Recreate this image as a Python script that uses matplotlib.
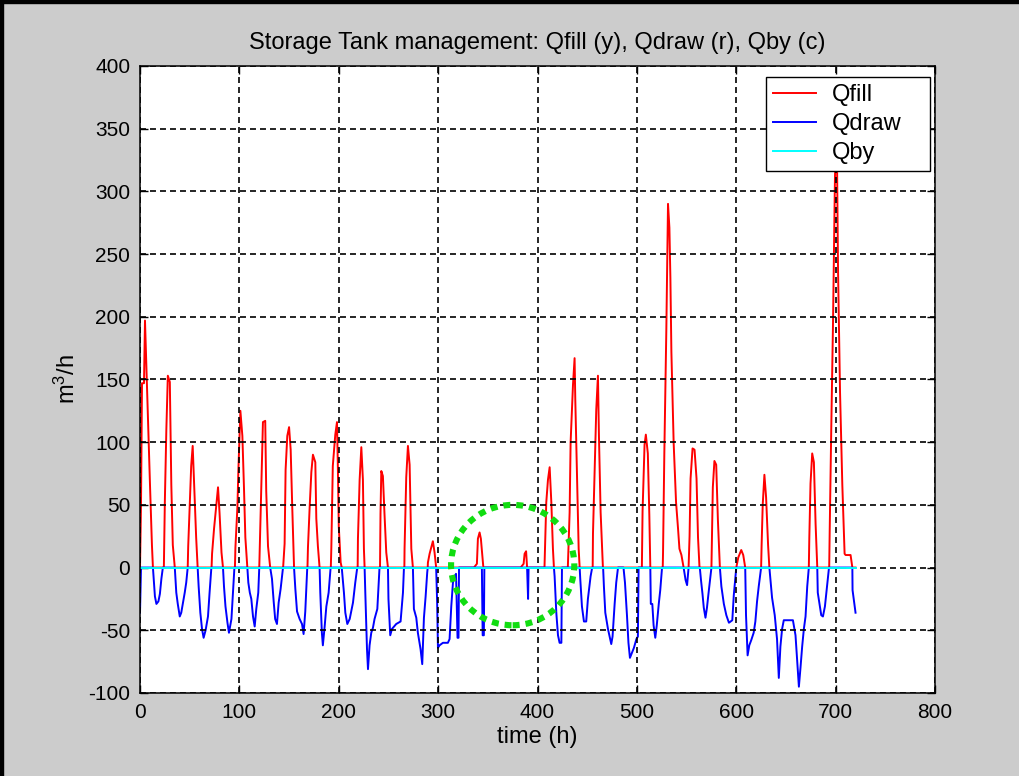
import numpy as np
import matplotlib
matplotlib.use("Agg")
import matplotlib.pyplot as plt
from matplotlib.patches import Ellipse, Rectangle

plt.rcParams['font.family'] = ['Liberation Sans', 'DejaVu Sans']
plt.rcParams['mathtext.default'] = 'regular'
plt.rcParams['lines.scale_dashes'] = False
plt.rcParams['axes.unicode_minus'] = False

# hourly flows of the storage tank, vertices of each curve (time in h, flow in m3/h)
fill_t = [0, 1, 2, 4, 5, 6, 8, 10, 12, 13,
          24, 25, 26.5, 28, 30, 30.5, 31.5, 33, 35,
          48, 48.5, 50, 51.5, 53, 55, 56.5, 58,
          72, 72.5, 74.5, 76.8, 78.5, 80, 82, 83.5,
          95.5, 96, 98, 99, 101, 103, 104.6, 106, 108,
          120, 120.5, 122, 123.7, 126, 127, 128.8, 131,
          144, 145.5, 146.5, 148.2, 150, 151.6, 153.2, 155,
          168.5, 169, 170.7, 172.4, 174, 176.4, 177.4, 179, 180.7,
          192, 192.5, 194, 196.5, 198.2, 199, 200, 201.9, 203,
          219, 219.3, 221, 222.7, 224.3, 225.3, 226,
          241.5, 242, 242.8, 244.4, 246, 247.8, 249.5,
          266, 266.2, 267.9, 269.6, 271.3, 273, 274.6,
          289.5, 289.7, 291.4, 293, 294.7, 296.4, 298,
          336, 339, 340, 341.7, 343, 345, 345.5,
          383, 386, 387, 388.5, 389.5,
          407, 408.8, 410.5, 412.2, 413.9, 415.5, 416.5,
          430.5, 432.3, 433.3, 435.7, 437.3, 438, 439.7, 441.4, 442.4,
          455.5, 455.8, 457.5, 459.1, 460.8, 461.8, 463.5, 465.8,
          505, 505.7, 507.7, 509, 511, 512.5, 513.5,
          526, 526.3, 527.6, 529.6, 531.3, 532.7, 533.7, 534.7, 537, 539.4, 541.4, 542.8, 544.8, 547,
          552, 553, 554, 556, 558, 560, 561.5, 563,
          575, 575.5, 576.4, 578, 579.8, 581.5, 583.5,
          600, 602, 605, 607, 609,
          625, 625.5, 626.6, 628.3, 630, 632, 633.3,
          673, 673.5, 674.7, 676.4, 678.1, 679.8, 681.5,
          693.5, 694, 695.6, 697.3, 699.3, 700.3, 701.3, 702.4, 704.4, 706.7, 709, 710, 715, 716.8, 720]
fill_v = [0, 50, 147, 147, 197, 171, 121, 67, 18, 0,
          0, 53, 110, 153, 148, 121, 66, 18, 0,
          0, 17, 49, 81, 97, 55, 24, 0,
          0, 11, 31, 50, 64, 44, 12, 0,
          0, 16, 48, 78, 125, 105, 64, 24, 0,
          0, 16, 66, 116, 117, 61, 17, 0,
          0, 19, 78, 105, 112, 94, 48, 0,
          0, 16, 48, 76, 90, 84, 39, 17, 0,
          0, 15, 81, 106, 116, 84, 33, 4, 0,
          0, 23, 70, 96, 70, 15, 0,
          0, 43, 77, 73, 43, 12, 0,
          0, 15, 72, 97, 82, 15, 0,
          0, 4, 11, 16, 21, 12, 0,
          0, 3, 23, 28, 23, 4, 0,
          0, 3, 11, 13, 0,
          0, 52, 70, 80, 52, 15, 0,
          0, 44, 100, 146, 167, 134, 76, 15, 0,
          0, 27, 77, 126, 153, 105, 44, 0,
          0, 45, 98, 106, 91, 42, 0,
          0, 12, 91, 189, 290, 271, 231, 172, 99, 52, 31, 15, 10, 0,
          0, 25, 71, 95, 94, 71, 24, 0,
          0, 22, 64, 85, 82, 38, 0,
          0, 8, 14, 10, 0,
          0, 18, 50, 74, 56, 18, 0,
          0, 24, 67, 91, 84, 35, 0,
          0, 29, 112, 193, 311, 345, 330, 237, 140, 66, 11, 10, 10, 0, 0]

draw_t = [0, 1, 13, 15, 16.5, 18.5, 20, 21.5, 23,
          35, 36.5, 38, 40, 41.5, 43, 45, 46.5, 48,
          58, 59, 60.7, 62.4, 64, 66, 68.4, 70, 71.8,
          83.5, 84.5, 86, 88, 89.5, 92, 93.5, 95,
          108, 109, 110.5, 112, 113.7, 115.4, 117, 119, 120,
          131, 132.8, 134.5, 136, 137.8, 139.5, 141.5, 143.9,
          155, 156.3, 158, 160.6, 163, 164.6, 166.3, 168.3,
          180.7, 181.4, 183, 184, 185.8, 187.5, 189.8, 191.8,
          203, 205.2, 206.6, 208.6, 211, 214.3, 216.6, 218.6,
          226, 226.7, 228.4, 229.4, 231, 232.7, 234.4, 236, 238.8, 241,
          249.5, 250, 251.8, 253.5, 257.8, 262.2, 264.6, 265.6,
          274.6, 275.6, 278, 279.6, 282.3, 284, 285.7, 287.4, 289, 289.5,
          298, 299, 299.8, 301.4, 304.8, 309.8, 311.5, 313.2, 314.9, 316.5, 318, 319.5, 320.5, 321,
          344, 344.8, 346, 346.5,
          389.5, 390, 390.5, 391,
          416.5, 417.2, 418.9, 420.6, 422.2, 424, 424.6,
          442.4, 443, 444.7, 446.7, 449, 450.7, 453.4, 455,
          466, 466.8, 468.2, 470.9, 474.2, 475.5, 477.6, 479.2, 481,
          486.5, 488, 490, 491.5, 493, 495, 497, 499.5, 501, 501.7,
          513.5, 514, 515.5, 516.8, 518.5, 520, 522, 523.5, 525.3,
          547, 549, 550.5, 552,
          563.3, 564.5, 566, 567.3, 569, 570.5, 572, 575,
          583.5, 585, 587.5, 590, 592.6, 596, 597.5, 600,
          609, 609.8, 611.4, 613.1, 615, 617.5, 619.2, 620.9, 622.6, 625,
          633.3, 636, 638.7, 641, 642.8, 644.4, 646.1, 647.8, 652.9, 657, 659.6, 661.3, 663, 664.6,
          666.3, 668, 669.7, 671.4, 673,
          681.5, 682, 683.8, 685.5, 687.2, 689.2, 691.6, 693.3,
          716.8, 717, 718.5, 720]
draw_v = [-36, 0, 0, -23, -29, -27, -21, -9, 0,
          0, -20, -29, -39, -36, -29, -20, -12, 0,
          0, -15, -36, -49, -56, -50, -39, -20, 0,
          0, -15, -31, -44, -52, -41, -20, 0,
          0, -12, -20, -25, -39, -47, -33, -20, 0,
          0, -9, -27, -41, -45, -28, -17, 0,
          0, -17, -35, -41, -45, -53, -35, 0,
          0, -20, -52, -62, -47, -31, -20, 0,
          0, -20, -36, -45, -41, -28, -12, 0,
          0, -20, -65, -81, -62, -52, -48, -41, -33, 0,
          0, -25, -54, -49, -45, -43, -20, 0,
          0, -33, -40, -52, -65, -77, -40, -23, -4, 0,
          0, -28, -64, -62, -60, -60, -57, -31, -12, -7, -5, -56, -56, 0,
          0, -54, -54, 0,
          0, -12, -25, 0,
          0, -7, -36, -54, -60, -60, 0,
          0, -9, -31, -43, -43, -25, -7, 0,
          0, -15, -36, -49, -61, -55, -29, -12, 0,
          0, -12, -38, -60, -72, -68, -64, -57, -55, 0,
          0, -29, -29, -46, -56, -46, -29, -18, 0,
          0, -10, -14, 0,
          0, -10, -21, -32, -40, -32, -21, 0,
          0, -15, -29, -38, -44, -42, -22, 0,
          0, -38, -70, -62, -58, -52, -43, -27, -15, 0,
          0, -24, -38, -57, -88, -63, -49, -42, -42, -42, -54, -74, -95, -80,
          -63, -49, -39, -15, 0,
          0, -20, -29, -38, -39, -31, -13, 0,
          0, -18, -27, -36]

by_t = [0, 720]
by_v = [0, 0]

fig = plt.figure(figsize=(10.19, 7.76), dpi=100, facecolor='#cccccc')
ax = fig.add_axes([0.1374, 0.1070, 0.7802, 0.8080])

ax.plot(fill_t, fill_v, color='#ff0000', lw=1.4, label='Qfill', zorder=1)
ax.plot(draw_t, draw_v, color='#0000ff', lw=1.4, label='Qdraw', zorder=1)
ax.plot(by_t, by_v, color='#00ffff', lw=1.4, label='Qby', zorder=2)

# green dotted circle around the low-demand days
ax.add_patch(Ellipse((375, 2), 124, 96, fill=False, edgecolor='#11dd11', lw=4.4,
                     linestyle=(0, (5, 4.3)), zorder=3))

ax.set_xlim(0, 800)
ax.set_ylim(-100, 400)
ax.set_xticks(np.arange(0, 801, 100))
ax.set_yticks(np.arange(-100, 401, 50))
ax.set_axisbelow('line')
ax.grid(True, color='black', linestyle=(0, (4.3, 2.9)), lw=1.2)
ax.tick_params(direction='in', length=6, width=1, top=True, right=True,
               labelsize=15, pad=7)
for s in ax.spines.values():
    s.set_linewidth(1.1)

ax.set_title('Storage Tank management: Qfill (y), Qdraw (r), Qby (c)', fontsize=17, pad=12)
ax.set_xlabel('time (h)', fontsize=17, labelpad=3)
ax.set_ylabel('m$^3$/h', fontsize=17, labelpad=6)

leg = ax.legend(loc='upper right', bbox_to_anchor=(0.7874, 0.8278, 0.2063, 0.1547),
                mode='expand', borderaxespad=0, fontsize=17, handlelength=1.8,
                handletextpad=0.7, labelspacing=0.3, borderpad=0.3, fancybox=False)
leg.get_frame().set_edgecolor('black')
leg.get_frame().set_linewidth(1.0)
leg.get_frame().set_alpha(1)

# window border
fig.add_artist(Rectangle((0, 1 - 3 / 776), 1, 3 / 776, transform=fig.transFigure, color='black'))
fig.add_artist(Rectangle((0, 0), 3 / 1019, 1, transform=fig.transFigure, color='black'))

fig.savefig('out.png', dpi=100, facecolor=fig.get_facecolor())
